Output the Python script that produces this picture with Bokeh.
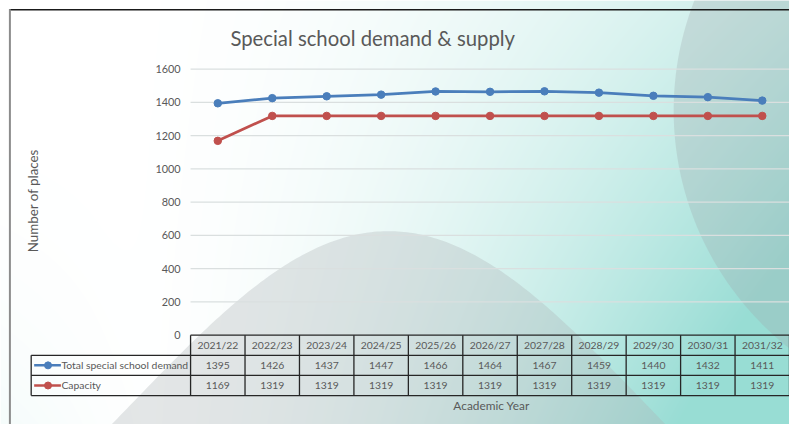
import numpy as np
from bokeh.plotting import figure
from bokeh.models import Range1d
from bokeh.core.properties import value
from bokeh.embed import file_html
from bokeh.resources import INLINE

# ---------------- data ----------------
years = ["2021/22", "2022/23", "2023/24", "2024/25", "2025/26", "2026/27",
         "2027/28", "2028/29", "2029/30", "2030/31", "2031/32"]
demand = [1395, 1426, 1437, 1447, 1466, 1464, 1467, 1459, 1440, 1432, 1411]
capacity = [1169, 1319, 1319, 1319, 1319, 1319, 1319, 1319, 1319, 1319, 1319]
series_names = ["Total special school demand", "Capacity"]
y_ticks = [0, 200, 400, 600, 800, 1000, 1200, 1400, 1600]
title_text = "Special school demand & supply"
y_label = "Number of places"
x_label = "Academic Year"

# ---------------- layout ----------------
W, H = 789, 424          # figure size in screen pixels
RW, RH = 797, 432        # layout design units (reference picture size)
PLOT_LEFT = 192          # left edge of plot area
CAT_W = 55               # category width
Y_ZERO = 341             # y of value 0 (from top)
Y_TOP = 70               # y of value 1600 (from top)
YMAX = 1600
ypp = YMAX / (Y_ZERO - Y_TOP)
FS = W / RW              # font scale

BLUE = "#4A7EBB"
RED = "#C0504D"
TXT = "#595959"
FONT = value("Lato")


def fsz(px):
    return f"{px * FS:.2f}px"


def py(top_y):
    return RH - np.asarray(top_y, dtype=float)


x_range = Range1d((0 - PLOT_LEFT) / CAT_W - 0.5, (RW - PLOT_LEFT) / CAT_W - 0.5)
y_range = Range1d(-(RH - Y_ZERO) * ypp, YMAX + Y_TOP * ypp)

p = figure(width=W, height=H, x_range=x_range, y_range=y_range,
           x_axis_type=None, y_axis_type=None,
           output_backend="svg", toolbar_location=None, min_border=0)
p.outline_line_color = None
p.background_fill_color = "white"
p.border_fill_color = "white"
p.extra_x_ranges = {"px": Range1d(0, RW)}
p.extra_y_ranges = {"py": Range1d(0, RH)}
PX = dict(x_range_name="px", y_range_name="py")

# ---------------- background gradient ----------------
xs = (np.arange(W) + 0.5) * RW / W
ys = (np.arange(H) + 0.5) * RH / H
X, Y = np.meshgrid(xs, ys)
t = np.clip((X - 100) / 700, 0, 1) * (0.7 + 0.5 * Y / 432)
t = np.clip(t, 0, 1) ** 2
t = t * (1 - 0.18 * t)
t = t + 0.08 * np.clip(Y / 432, 0, 1) ** 3 * np.clip(1 - X / 150, 0, 1)
img = np.empty((H, W), dtype=np.uint32)
view = img.view(dtype=np.uint8).reshape((H, W, 4))
view[..., 0] = np.round(255 - 125 * t)
view[..., 1] = np.round(255 - 42 * t)
view[..., 2] = np.round(255 - 52 * t)
view[..., 3] = 255
img = img[::-1].copy()
p.image_rgba(image=[img], x=0, y=0, dw=RW, dh=RH, **PX)

# hill shape
hx = np.linspace(40, 760, 240)
hy = 235 + 448 * (1 - np.exp(-(hx - 392) ** 2 / (2 * 260 ** 2)))
hx = np.concatenate([hx, [760, 40]])
hy = np.concatenate([hy, [520, 520]])
p.patch(hx, py(hy), fill_color=(172, 180, 183), fill_alpha=0.33, line_color=None, **PX)

# right circle
th = np.linspace(0, 2 * np.pi, 360)
cx = 990 + 310 * np.cos(th)
cy = 112 + 310 * np.sin(th)
p.patch(cx, py(cy), fill_color=(160, 170, 172), fill_alpha=0.3, line_color=None, **PX)

# chart border
p.segment(x0=[9], y0=py([9.5]), x1=[RW], y1=py([9.5]), line_color="#1a1a1a", line_width=1.5, **PX)
p.segment(x0=[9.5], y0=py([9]), x1=[9.5], y1=py([RH]), line_color="#8c8c8c", line_width=2, **PX)

# ---------------- grid lines ----------------
n = len(years)
idx = list(range(n))
grid_ticks = [v for v in y_ticks if v > 0]
p.segment(x0=[-0.5] * len(grid_ticks), y0=grid_ticks, x1=[n - 0.5] * len(grid_ticks), y1=grid_ticks,
          line_color="#dadfdf", line_width=1.2)

# y tick labels
p.text(x=[182] * len(y_ticks), y=y_ticks, text=[str(v) for v in y_ticks],
       text_align="right", text_baseline="middle", text_font=FONT, text_font_size=fsz(11),
       text_color=TXT, x_range_name="px")

# ---------------- series ----------------
p.line(idx, demand, line_color=BLUE, line_width=2.75)
p.scatter(idx, demand, size=7.5, fill_color=BLUE, line_color=BLUE)
p.line(idx, capacity, line_color=RED, line_width=2.75)
p.scatter(idx, capacity, size=7.5, fill_color=RED, line_color=RED)

# ---------------- data table ----------------
ROW_TOP, ROW1, ROW2, ROW_BOT = 341, 361.5, 382, 402.5
LEG_LEFT = 31
TBL = "#262626"
# horizontal lines
p.segment(x0=[-0.5], y0=py([ROW_TOP]), x1=[n - 0.5], y1=py([ROW_TOP]), line_color=TBL, line_width=1.3,
          y_range_name="py")
for yy in (ROW1, ROW2, ROW_BOT):
    p.segment(x0=[LEG_LEFT], y0=py([yy]), x1=[RW], y1=py([yy]), line_color=TBL, line_width=1.3, **PX)
# vertical lines
bounds = [i - 0.5 for i in range(n + 1)]
p.segment(x0=bounds, y0=py([ROW_TOP] * len(bounds)), x1=bounds, y1=py([ROW_BOT] * len(bounds)),
          line_color=TBL, line_width=1.3, y_range_name="py")
p.segment(x0=[LEG_LEFT], y0=py([ROW1]), x1=[LEG_LEFT], y1=py([ROW_BOT]), line_color=TBL, line_width=1.3, **PX)

# header and values
p.text(x=idx, y=py([(ROW_TOP + ROW1) / 2] * n), text=years, text_align="center", text_baseline="middle",
       text_font=FONT, text_font_size=fsz(10.5), text_color=TXT, y_range_name="py")
p.text(x=idx, y=py([(ROW1 + ROW2) / 2] * n), text=[str(v) for v in demand], text_align="center",
       text_baseline="middle", text_font=FONT, text_font_size=fsz(10.5), text_color=TXT, y_range_name="py")
p.text(x=idx, y=py([(ROW2 + ROW_BOT) / 2] * n), text=[str(v) for v in capacity], text_align="center",
       text_baseline="middle", text_font=FONT, text_font_size=fsz(10.5), text_color=TXT, y_range_name="py")

# legend keys
for name, col, (ya, yb) in zip(series_names, (BLUE, RED), ((ROW1, ROW2), (ROW2, ROW_BOT))):
    ym = py([(ya + yb) / 2])
    p.segment(x0=[34], y0=ym, x1=[61], y1=ym, line_color=col, line_width=2.5, **PX)
    p.scatter(x=[48], y=ym, size=7, fill_color=col, line_color=col, **PX)
    p.text(x=[61.5], y=ym, text=[name], text_align="left", text_baseline="middle",
           text_font=FONT, text_font_size=fsz(10.5), text_color=TXT, **PX)

# ---------------- titles ----------------
p.text(x=[376], y=py([38]), text=[title_text], text_align="center", text_baseline="middle",
       text_font=FONT, text_font_size=fsz(20.5), text_color=TXT, **PX)
p.text(x=[33], y=py([204]), text=[y_label], angle=np.pi / 2, text_align="center", text_baseline="middle",
       text_font=FONT, text_font_size=fsz(13.5), text_color=TXT, **PX)
p.text(x=[496], y=py([413]), text=[x_label], text_align="center", text_baseline="middle",
       text_font=FONT, text_font_size=fsz(12), text_color=TXT, **PX)

open("out.html", "w").write(file_html(p, INLINE))
